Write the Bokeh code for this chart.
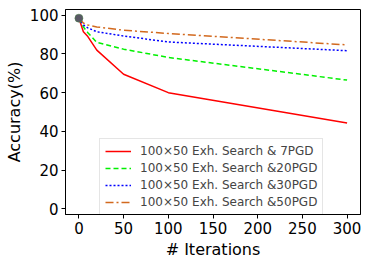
from bokeh.plotting import figure
from bokeh.models import Legend, LegendItem, FixedTicker
from bokeh.embed import file_html
from bokeh.resources import INLINE

iterations = [0, 5, 10, 20, 50, 100, 300]
acc_7pgd = [98.5, 91.5, 89.0, 82.0, 69.5, 60.0, 44.3]
acc_20pgd = [98.5, 94.0, 91.0, 86.0, 82.5, 78.2, 66.5]
acc_30pgd = [98.5, 95.0, 93.5, 91.5, 89.3, 86.2, 81.7]
acc_50pgd = [98.5, 96.0, 95.0, 94.0, 92.3, 90.6, 84.7]
start_iter = [0]
start_acc = [98.5]
labels = ["100×50 Exh. Search & 7PGD", "100×50 Exh. Search &20PGD",
          "100×50 Exh. Search &30PGD", "100×50 Exh. Search &50PGD"]
x_ticks = [0, 50, 100, 150, 200, 250, 300]
y_ticks = [0, 20, 40, 60, 80, 100]

FONT = "DejaVu Sans"

p = figure(width=365, height=262, output_backend="svg", toolbar_location=None,
           x_range=(-15, 315), y_range=(-3, 103),
           min_border_left=65, min_border_right=5, min_border_top=9, min_border_bottom=48)
p.grid.visible = False
p.outline_line_color = "black"
p.outline_line_width = 1
p.background_fill_color = "white"
p.border_fill_color = "white"

r1 = p.line(iterations, acc_7pgd, line_color="#ff0000", line_width=1.5)
r2 = p.line(iterations, acc_20pgd, line_color="#00f000", line_width=1.5, line_dash="5 3")
r3 = p.line(iterations, acc_30pgd, line_color="#0000ff", line_width=1.5, line_dash="2 2")
r4 = p.line(iterations, acc_50pgd, line_color="#d2691e", line_width=1.5, line_dash="8 3 2 3")
p.scatter(start_iter, start_acc, size=8, fill_color="#5a5866", line_color="#4a7a4a", line_width=0.6)

for ax in (p.xaxis[0], p.yaxis[0]):
    ax.major_label_text_font = FONT
    ax.major_label_text_font_size = "15px"
    ax.major_label_text_color = "black"
    ax.axis_label_text_font = FONT
    ax.axis_label_text_font_size = "16px"
    ax.axis_label_text_font_style = "normal"
    ax.axis_label_text_color = "black"
    ax.axis_line_color = "black"
    ax.major_tick_line_color = "black"
    ax.major_tick_out = 4
    ax.major_tick_in = 0
    ax.minor_tick_line_color = None
    ax.major_label_standoff = 3
    ax.axis_label_standoff = 3

p.xaxis[0].ticker = FixedTicker(ticks=x_ticks)
p.yaxis[0].ticker = FixedTicker(ticks=y_ticks)
p.xaxis[0].axis_label = "# Iterations"
p.yaxis[0].axis_label = "Accuracy(%)"

legend = Legend(items=[LegendItem(label=labels[0], renderers=[r1]),
                       LegendItem(label=labels[1], renderers=[r2]),
                       LegendItem(label=labels[2], renderers=[r3]),
                       LegendItem(label=labels[3], renderers=[r4])],
                location=(34, -1))
legend.label_text_font = FONT
legend.label_text_font_size = "12px"
legend.glyph_width = 26
legend.glyph_height = 14
legend.label_height = 14
legend.spacing = 3
legend.padding = 5
legend.margin = 0
legend.label_standoff = 9
legend.border_line_color = "#cccccc"
legend.background_fill_alpha = 0.8
p.add_layout(legend, "center")

open("out.html", "w").write(file_html(p, INLINE))
